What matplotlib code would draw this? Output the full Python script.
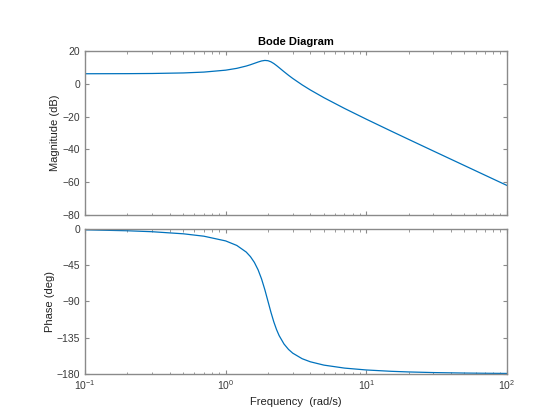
import matplotlib.pyplot as plt
import numpy as np

plt.rcParams['font.family'] = ['Liberation Sans', 'DejaVu Sans']

# frequency points (rad/s)
freq = [0.1, 0.2, 0.3, 0.5, 0.7, 1.0, 1.2, 1.4, 1.5, 1.6, 1.7, 1.8, 1.9, 2.0,
        2.1, 2.2, 2.3, 2.4, 2.6, 2.8, 3.0, 3.5, 4, 5, 7, 10, 15, 20, 30, 50, 70, 100]
mag_db = [6.04, 6.10, 6.20, 6.53, 7.05, 8.22, 9.33, 10.73, 11.53, 12.37, 13.17, 13.83,
          14.15, 13.98, 13.30, 12.26, 11.03, 9.75, 7.29, 5.10, 3.18, -0.74, -3.82,
          -8.54, -15.07, -21.61, -28.84, -33.90, -40.99, -49.88, -55.74, -61.94]
phase_deg = [-1.15, -2.31, -3.51, -6.09, -9.07, -14.93, -20.56, -28.77, -34.44, -41.63,
             -50.78, -62.18, -75.61, -90.0, -103.71, -115.51, -125.03, -132.51, -143.00,
             -149.74, -154.36, -161.26, -165.07, -169.22, -172.91, -175.24, -176.89,
             -177.69, -178.47, -179.08, -179.34, -179.54]

mag_ticks = [-80, -60, -40, -20, 0, 20]
phase_ticks = [-180, -135, -90, -45, 0]

linecol = '#0072BD'
axcol = '#8a8a8a'
txtcol = '#3a3a3a'

fig = plt.figure(figsize=(5.6, 4.2), dpi=100)
ax1 = fig.add_axes([0.152, 0.488, 0.753, 0.391])
ax2 = fig.add_axes([0.152, 0.110, 0.753, 0.345])

ax1.semilogx(freq, mag_db, color=linecol, linewidth=0.9)
ax2.semilogx(freq, phase_deg, color=linecol, linewidth=0.9)

for ax in (ax1, ax2):
    ax.set_xlim(0.1, 100)
    for s in ax.spines.values():
        s.set_color(axcol)
        s.set_linewidth(1.0)
    ax.tick_params(which='both', direction='in', top=True, right=True,
                   colors=axcol, labelcolor=txtcol, labelsize=7.5)
    ax.tick_params(which='major', length=3)
    ax.tick_params(which='minor', length=1.8)

ax1.set_ylim(-80, 20)
ax1.set_yticks(mag_ticks)
ax1.tick_params(which='both', labelbottom=False)
ax1.set_ylabel('Magnitude (dB)', fontsize=8, color='#222222', labelpad=2)
ax1.set_title('Bode Diagram', fontsize=8, fontweight='bold', pad=4)

ax2.set_ylim(-180, 0)
ax2.set_yticks(phase_ticks)
ax2.set_xticks([0.1, 1, 10, 100])
ax2.set_ylabel('Phase (deg)', fontsize=8, color='#222222', labelpad=1)
ax2.set_xlabel('Frequency  (rad/s)', fontsize=8, color='#222222', labelpad=3)

fig.savefig('out.png', dpi=100)
